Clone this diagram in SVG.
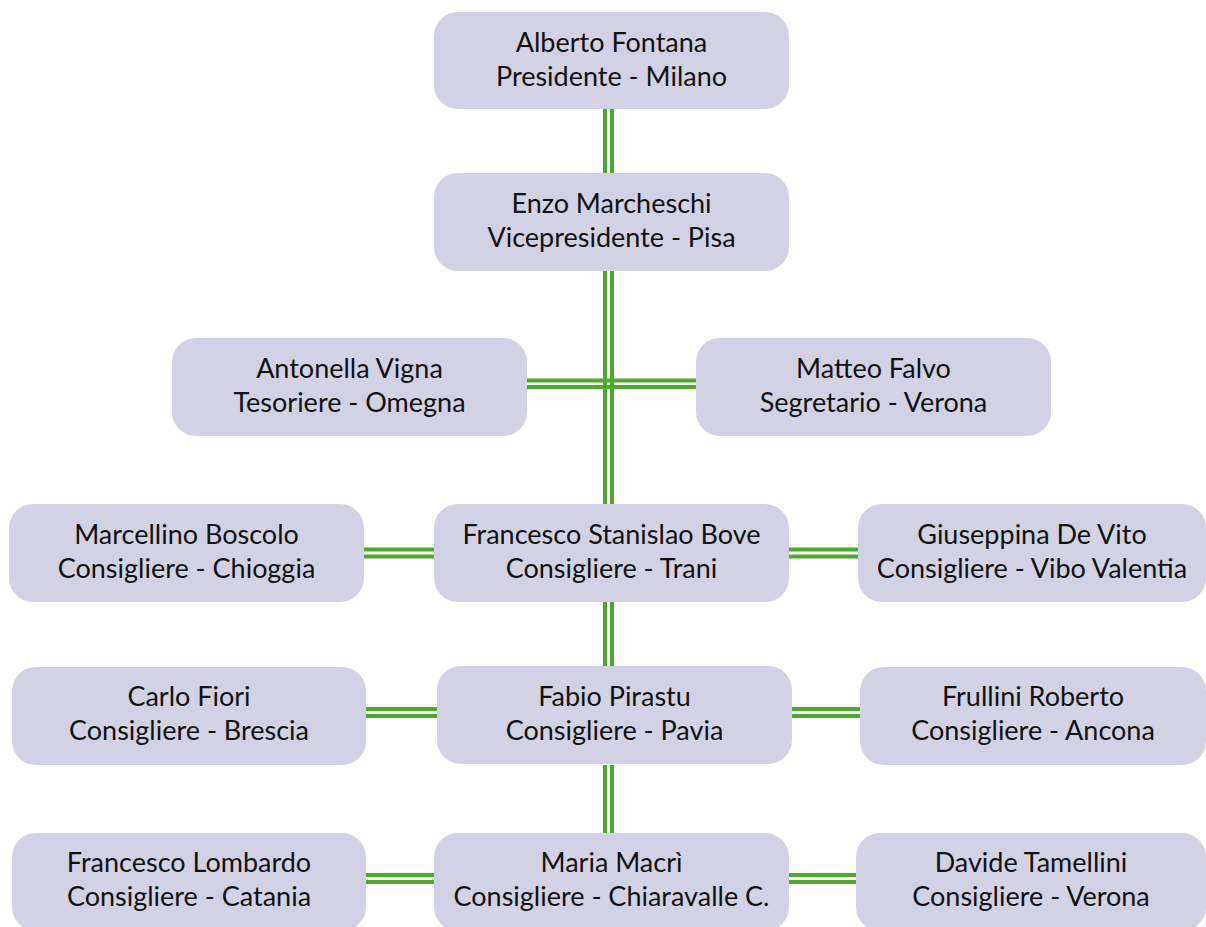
<svg xmlns="http://www.w3.org/2000/svg" width="1206" height="927" viewBox="0 0 1206 927">
<style>
.n{fill:#d3d2e5}
.t{font-family:Lato,"Liberation Sans",sans-serif;font-size:27px;fill:#111;text-anchor:middle}
.c line{stroke:#4ea72e;stroke-width:4}
</style>
<rect width="1206" height="927" fill="#fff"/>
<g class="c" id="connectors">
<line x1="605" y1="108" x2="605" y2="173"/><line x1="612" y1="108" x2="612" y2="173"/>
<line x1="605" y1="271" x2="605" y2="504"/><line x1="612" y1="271" x2="612" y2="504"/>
<line x1="605" y1="602" x2="605" y2="667"/><line x1="612" y1="602" x2="612" y2="667"/>
<line x1="605" y1="765" x2="605" y2="833"/><line x1="612" y1="765" x2="612" y2="833"/>
<line x1="527" y1="380.5" x2="696" y2="380.5"/><line x1="527" y1="387" x2="696" y2="387"/>
<line x1="364" y1="549.5" x2="434" y2="549.5"/><line x1="364" y1="556.5" x2="434" y2="556.5"/>
<line x1="789" y1="549.5" x2="858" y2="549.5"/><line x1="789" y1="556.5" x2="858" y2="556.5"/>
<line x1="366" y1="709" x2="437" y2="709"/><line x1="366" y1="716" x2="437" y2="716"/>
<line x1="792" y1="709" x2="860" y2="709"/><line x1="792" y1="716" x2="860" y2="716"/>
<line x1="366" y1="875" x2="434" y2="875"/><line x1="366" y1="882" x2="434" y2="882"/>
<line x1="789" y1="875" x2="856" y2="875"/><line x1="789" y1="882" x2="856" y2="882"/>
</g>
<g id="n1"><rect class="n" x="434" y="12" width="355" height="97" rx="24"/><text class="t" x="611.5" y="52">Alberto Fontana</text><text class="t" x="611.5" y="86">Presidente - Milano</text></g>
<g id="n2"><rect class="n" x="434" y="173" width="355" height="98" rx="24"/><text class="t" x="611.5" y="213">Enzo Marcheschi</text><text class="t" x="611.5" y="247">Vicepresidente - Pisa</text></g>
<g id="n3"><rect class="n" x="172" y="338" width="355" height="98" rx="24"/><text class="t" x="349.5" y="378">Antonella Vigna</text><text class="t" x="349.5" y="412">Tesoriere - Omegna</text></g>
<g id="n4"><rect class="n" x="696" y="338" width="355" height="98" rx="24"/><text class="t" x="873.5" y="378">Matteo Falvo</text><text class="t" x="873.5" y="412">Segretario - Verona</text></g>
<g id="n5"><rect class="n" x="9" y="504" width="355" height="98" rx="24"/><text class="t" x="186.5" y="544">Marcellino Boscolo</text><text class="t" x="186.5" y="578">Consigliere - Chioggia</text></g>
<g id="n6"><rect class="n" x="434" y="504" width="355" height="98" rx="24"/><text class="t" x="611.5" y="544">Francesco Stanislao Bove</text><text class="t" x="611.5" y="578">Consigliere - Trani</text></g>
<g id="n7"><rect class="n" x="858" y="504" width="348" height="98" rx="24"/><text class="t" x="1032" y="544">Giuseppina De Vito</text><text class="t" x="1032" y="578">Consigliere - Vibo Valentia</text></g>
<g id="n8"><rect class="n" x="12" y="667" width="354" height="98" rx="24"/><text class="t" x="189" y="706">Carlo Fiori</text><text class="t" x="189" y="740">Consigliere - Brescia</text></g>
<g id="n9"><rect class="n" x="437" y="666" width="355" height="98" rx="24"/><text class="t" x="614.5" y="706">Fabio Pirastu</text><text class="t" x="614.5" y="740">Consigliere - Pavia</text></g>
<g id="n10"><rect class="n" x="860" y="667" width="346" height="98" rx="24"/><text class="t" x="1033" y="706">Frullini Roberto</text><text class="t" x="1033" y="740">Consigliere - Ancona</text></g>
<g id="n11"><rect class="n" x="12" y="833" width="354" height="98" rx="24"/><text class="t" x="189" y="872">Francesco Lombardo</text><text class="t" x="189" y="906">Consigliere - Catania</text></g>
<g id="n12"><rect class="n" x="434" y="833" width="355" height="98" rx="24"/><text class="t" x="611.5" y="872">Maria Macrì</text><text class="t" x="611.5" y="906">Consigliere - Chiaravalle C.</text></g>
<g id="n13"><rect class="n" x="856" y="833" width="350" height="98" rx="24"/><text class="t" x="1031" y="872">Davide Tamellini</text><text class="t" x="1031" y="906">Consigliere - Verona</text></g>
</svg>
